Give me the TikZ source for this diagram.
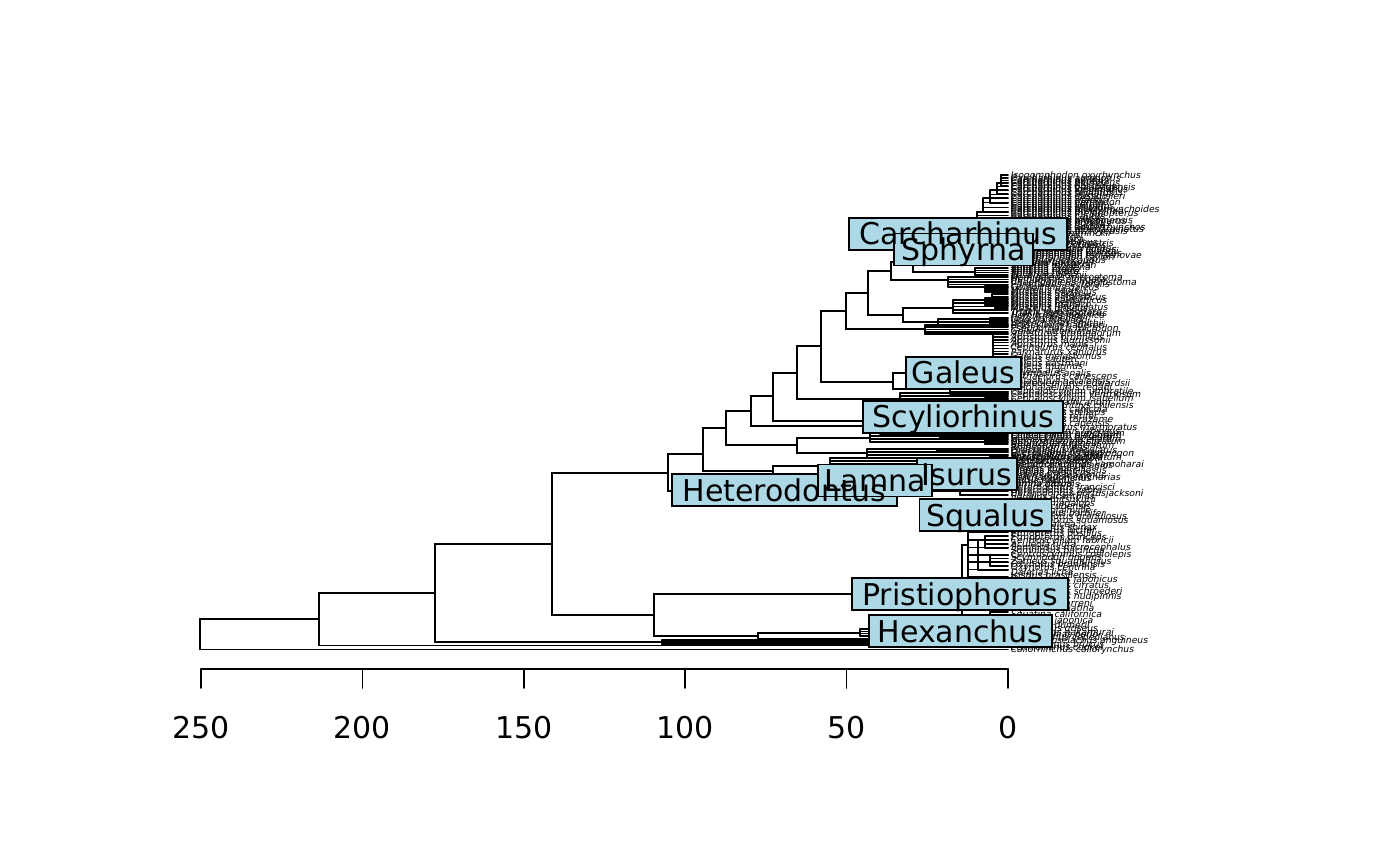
\documentclass[tikz,border=0pt]{standalone}
\usepackage{fontspec}
\setmainfont{DejaVu Sans}
\definecolor{lightblue}{HTML}{ADD8E6}
\newcommand\tcomb[4]{%
  \draw (#1,#2) -- (#1,#3);
  \foreach \k in {0,...,#4}{\pgfmathsetmacro\yy{#2+(#3-#2)*\k/#4}\draw (#1,\yy) -- (1008,\yy);}%
}
\newcommand\tedge[2]{\draw (#1) |- (#2);}
\newcommand\tiplabs[3]{%
  \foreach \nm [count=\i from 0] in {#3}{\node[tip] at (1010,{#1+#2*\i}) {\nm};}%
}
\begin{document}
\begin{tikzpicture}[x=0.5pt,y=-0.5pt,line width=0.8pt,line cap=round,
  tip/.style={anchor=west,inner sep=0pt,font=\fontsize{4.6}{5}\selectfont\itshape},
  clab/.style={draw,fill=lightblue,line width=0.85pt,inner sep=0pt,minimum height=16pt},
  ctext/.style={anchor=base,inner sep=0pt,font=\fontsize{15}{18}\selectfont},
  ticklab/.style={inner sep=0pt,font=\fontsize{15}{18}\selectfont}]
\useasboundingbox (0,0) rectangle (1400,865);
% ---------- backbone coordinates
\coordinate (R) at (200,634);
\coordinate (tCal) at (1008,649.5);
\coordinate (N1) at (319,619);
\coordinate (tB) at (1008,645.5);
\coordinate (N2) at (435,593);
\coordinate (Nb) at (662,642);
\coordinate (N3) at (552,544);
\coordinate (N4) at (668,473);
\coordinate (Nsq) at (654,615);
\coordinate (P) at (962,594);
\coordinate (Sq) at (968,545);
\coordinate (Pr) at (990,620);
\coordinate (H1) at (758,636);
\coordinate (H2) at (860,633);
\coordinate (tH) at (1008,639);
\coordinate (N5) at (703,454);
\coordinate (Het) at (960,491);
\coordinate (N6) at (726,428);
\coordinate (Lam) at (773,471);
\coordinate (LamA) at (830,466);
\coordinate (LamB) at (900,476);
\coordinate (N7) at (751,411);
\coordinate (Ore) at (797,445);
\coordinate (O1) at (870,438);
\coordinate (O2) at (867,453);
\coordinate (N8) at (773,396);
\coordinate (S2) at (880,426);
\coordinate (N9) at (797,373);
\coordinate (S1) at (900,421);
\coordinate (N10) at (821,346);
\coordinate (Pen) at (900,399);
\coordinate (N11) at (846,311);
\coordinate (Gal) at (893,382);
\coordinate (G1) at (930,373);
\coordinate (G2) at (950,389);
\coordinate (N12) at (868,293);
\coordinate (Tri) at (925,329);
\coordinate (N14) at (891,271);
\coordinate (N13) at (903,315);
\coordinate (N13a) at (953,308);
\coordinate (N13b) at (938,322);
\coordinate (C0) at (913,262);
\coordinate (N15) at (948,280);
\coordinate (Car) at (930,235);
\coordinate (Sph) at (975,272);
\coordinate (Ctop) at (977,219);
\coordinate (Cbot) at (955,245);
% ---------- backbone edges
\tedge{R}{N1}\tedge{R}{tCal}
\tedge{N1}{N2}\tedge{N1}{tB}
\tedge{N2}{N3}\tedge{N2}{Nb}
\tedge{N3}{N4}\tedge{N3}{Nsq}
\tedge{Nsq}{P}\tedge{Nsq}{H1}
\tedge{P}{Sq}\tedge{P}{Pr}
\tedge{H1}{H2}\tedge{H1}{tH}
\tedge{N4}{N5}\tedge{N4}{Het}
\tedge{N5}{N6}\tedge{N5}{Lam}
\tedge{Lam}{LamA}\tedge{Lam}{LamB}
\tedge{N6}{N7}\tedge{N6}{Ore}
\tedge{Ore}{O1}\tedge{Ore}{O2}
\tedge{N7}{N8}\tedge{N7}{S2}
\tedge{N8}{N9}\tedge{N8}{S1}
\tedge{N9}{N10}\tedge{N9}{Pen}
\tedge{N10}{N11}\tedge{N10}{Gal}
\tedge{Gal}{G1}\tedge{Gal}{G2}
\tedge{N11}{N12}\tedge{N11}{Tri}
\tedge{N12}{N14}\tedge{N12}{N13}
\tedge{N13}{N13a}\tedge{N13}{N13b}
\tedge{N14}{C0}\tedge{N14}{N15}
\tedge{C0}{Car}\tedge{C0}{Sph}
\tedge{Car}{Ctop}\tedge{Car}{Cbot}
% ---------- terminal clades
\tcomb{662}{640}{644}{3}
\tcomb{860}{629}{636}{3}
\tcomb{968}{503}{577}{10}
\tcomb{978}{540}{570}{4}
\tcomb{985}{536}{548}{3}
\tcomb{990}{555}{566}{3}
\tcomb{995}{508}{530}{6}
\tcomb{990}{612}{627}{5}
\tcomb{960}{487}{495}{2}
\tcomb{830}{458}{470}{4}
\tcomb{900}{472}{485}{3}
\tcomb{870}{433}{442}{3}
\tcomb{940}{434}{438}{2}
\tcomb{985}{440}{444}{2}
\tcomb{867}{449}{458}{3}
\tcomb{937}{449}{452}{2}
\tcomb{990}{455}{459}{2}
\tcomb{880}{422}{434}{4}
\tcomb{900}{403}{421}{6}
\tcomb{900}{393}{402}{3}
\tcomb{960}{392}{396}{2}
\tcomb{985}{398}{401}{2}
\tcomb{930}{360}{386}{6}
\tcomb{993}{334}{360}{9}
\tcomb{950}{389}{394}{2}
\tcomb{925}{325}{334}{4}
\tcomb{990}{318}{326}{3}
\tcomb{953}{300}{313}{4}
\tcomb{985}{298}{305}{2}
\tcomb{995}{303}{308}{2}
\tcomb{938}{319}{325}{2}
\tcomb{948}{277}{287}{4}
\tcomb{985}{286}{292}{3}
\tcomb{992}{294}{299}{2}
\tcomb{975}{268}{275}{3}
\tcomb{955}{238}{250}{5}
\tcomb{977}{212}{222}{3}
\tcomb{983}{198}{212}{3}
\tcomb{990}{190}{203}{3}
\tcomb{997}{183}{194}{3}
\tcomb{1001}{175}{186}{4}
% ---------- tip labels
\tiplabs{176}{2.0}{Isogomphodon oxyrhynchus,Carcharhinus acronotus,Carcharhinus altimus,Carcharhinus perezi,Carcharhinus plumbeus,Carcharhinus obscurus,Carcharhinus galapagensis,Carcharhinus longimanus,Carcharhinus falciformis,Carcharhinus signatus,Carcharhinus dussumieri,Carcharhinus sealei,Carcharhinus macloti,Carcharhinus hemiodon,Carcharhinus sorrah,Carcharhinus limbatus,Carcharhinus tilstoni,Carcharhinus amblyrhynchoides,Carcharhinus brevipinna,Carcharhinus melanopterus,Carcharhinus cautus,Carcharhinus leucas,Carcharhinus amboinensis,Carcharhinus brachyurus,Carcharhinus porosus,Carcharhinus isodon,Carcharhinus amblyrhynchos,Carcharhinus albimarginatus,Carcharhinus fitzroyensis,Lamiopsis temminckii,Glyphis glyphis,Glyphis garricki,Prionace glauca,Triaenodon obesus,Negaprion brevirostris,Negaprion acutidens,Loxodon macrorhinus,Rhizoprionodon acutus,Rhizoprionodon lalandii,Rhizoprionodon porosus,Rhizoprionodon terraenovae,Rhizoprionodon taylori,Scoliodon laticaudus,Galeocerdo cuvier,Sphyrna lewini,Sphyrna mokarran,Sphyrna zygaena,Sphyrna media,Sphyrna tiburo,Sphyrna tudes,Eusphyra blochii}
\tiplabs{278}{2.4}{Hemigaleus microstoma,Hemipristis elongata,Chaenogaleus macrostoma,Paragaleus pectoralis,Galeorhinus galeus,Mustelus canis,Mustelus mustelus,Mustelus asterias,Mustelus antarcticus,Mustelus californicus,Mustelus henlei,Mustelus manazo,Mustelus lenticulatus,Mustelus griseus,Triakis semifasciata,Triakis megalopterus,Hemitriakis japanica,Iago omanensis,Gogolia filewoodi,Leptocharias smithii,Proscyllium habereri,Pseudotriakis microdon,Gollum attenuatus}
\tiplabs{334}{3.6}{Apristurus profundorum,Apristurus brunneus,Apristurus laurussonii,Apristurus manis,Cephalurus cephalus,Parmaturus xaniurus,Galeus melastomus,Galeus sauteri,Galeus eastmani,Galeus murinus,Galeus arae,Asymbolus analis,Bythaelurus canescens,Halaelurus natalensis,Haploblepharus edwardsii,Holohalaelurus regani,Cephaloscyllium umbratile,Cephaloscyllium ventriosum,Cephaloscyllium isabellum,Poroderma africanum,Schroederichthys chilensis,Scyliorhinus canicula,Scyliorhinus stellaris,Scyliorhinus retifer,Scyliorhinus torazame,Scyliorhinus capensis,Atelomycterus marmoratus,Aulohalaelurus labiosus}
\tiplabs{434}{2.0}{Chiloscyllium punctatum,Chiloscyllium plagiosum,Chiloscyllium griseum,Hemiscyllium ocellatum,Ginglymostoma cirratum,Nebrius ferrugineus,Stegostoma fasciatum,Rhincodon typus,Orectolobus maculatus,Orectolobus ornatus,Eucrossorhinus dasypogon,Brachaelurus waddi,Parascyllium variolatum}
\tiplabs{458}{2.1}{Mitsukurina owstoni,Carcharias taurus,Odontaspis ferox,Pseudocarcharias kamoharai,Megachasma pelagios,Alopias vulpinus,Alopias superciliosus,Alopias pelagicus,Cetorhinus maximus,Carcharodon carcharias,Isurus oxyrinchus,Isurus paucus,Lamna nasus,Lamna ditropis}
\tiplabs{487}{3.5}{Heterodontus francisci,Heterodontus zebra,Heterodontus portusjacksoni}
\tiplabs{497}{3.4}{Squalus acanthias,Squalus mitsukurii,Squalus megalops,Squalus cubensis,Squalus blainville,Cirrhigaleus barbifer,Centrophorus granulosus,Centrophorus squamosus,Deania calcea,Etmopterus spinax,Etmopterus lucifer,Etmopterus pusillus,Etmopterus princeps,Centroscyllium fabricii,Aculeola nigra,Somniosus microcephalus,Somniosus pacificus,Centroscymnus coelolepis,Scymnodon ringens,Zameus squamulosus,Oxynotus bruniensis,Oxynotus centrina,Dalatias licha,Isistius brasiliensis}
\tiplabs{580}{5.8}{Pristiophorus japonicus,Pristiophorus cirratus,Pristiophorus schroederi,Pristiophorus nudipinnis,Pliotrema warreni,Squatina squatina,Squatina californica,Squatina japonica,Squatina dumeril}
\tiplabs{629}{3.0}{Hexanchus griseus,Hexanchus nakamurai,Heptranchias perlo,Notorynchus cepedianus,Chlamydoselachus anguineus,Echinorhinus brucus,Echinorhinus cookei,Callorhinchus callorynchus}
% ---------- clade label boxes
\node[clab,minimum width=109pt] (bCar) at (958,234) {};
\node[clab,minimum width=69.5pt] (bSph) at (963.5,249.5) {};
\node[clab,minimum width=57.5pt] (bGal) at (963.5,373) {};
\node[clab,minimum width=100pt] (bScy) at (963,417) {};
\node[clab,minimum width=112.5pt] (bHet) at (784.5,490) {};
\node[clab,minimum width=50pt] (bIsu) at (967,474) {};
\node[clab,minimum width=57pt] (bLam) at (875,480.5) {};
\node[clab,minimum width=66pt] (bSqu) at (985.5,515) {};
\node[clab,minimum width=108pt] (bPri) at (960,594) {};
\node[clab,minimum width=91.5pt] (bHex) at (960.5,631) {};
\foreach \b/\t in {bCar/Carcharhinus,bSph/Sphyrna,bGal/Galeus,bScy/Scyliorhinus,bHet/Heterodontus,bIsu/Isurus,bLam/Lamna,bSqu/Squalus,bPri/Pristiophorus,bHex/Hexanchus}
  \node[ctext] at ([yshift=-5.5pt]\b.center) {\t};
% ---------- time axis
\coordinate (a0) at (1008,669);
\coordinate (a250) at (201,669);
\draw (a250) -- (a0);
\foreach \t in {0,50,100,150,200,250}{
  \pgfmathsetmacro\xx{1008-\t*3.228}
  \draw (\xx,669) -- (\xx,688);
  \node[ticklab] at (\xx,728) {\t};
}
\end{tikzpicture}
\end{document}
